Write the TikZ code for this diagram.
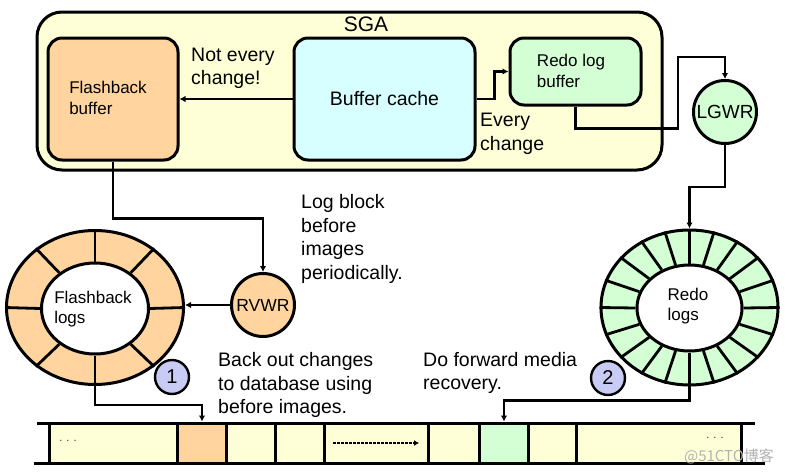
\documentclass[tikz,border=0pt]{standalone}
\usepackage{fontspec}
\setmainfont{Liberation Sans}
\newfontfamily\cjkfont{Noto Sans CJK SC}
\usetikzlibrary{shapes.geometric,arrows.meta}
\definecolor{sgaY}{HTML}{FFFFD7}
\definecolor{peach}{HTML}{FFD49E}
\definecolor{cyanL}{HTML}{D7FFFF}
\definecolor{greenL}{HTML}{D4FFD4}
\definecolor{lav}{HTML}{C8CCF5}
\begin{document}
\begin{tikzpicture}[x=1pt,y=-1pt,
  box/.style={draw, line width=3pt, rounded corners=14pt, inner sep=0pt},
  conn/.style={line width=2.6pt},
  arr/.style={conn, -{Latex[length=6pt,width=6.5pt]}},
  bigtxt/.style={font=\fontsize{19.5}{23.5}\selectfont, align=left, inner sep=0pt},
  smalltxt/.style={font=\fontsize{17}{20.5}\selectfont, align=left, inner sep=0pt},
  ring/.style={ellipse, draw, line width=3pt, inner sep=0pt},
  spoke/.style={line width=2.8pt},
  proc/.style={circle, draw, line width=3pt, inner sep=0pt, minimum size=63pt},
  num/.style={circle, draw, line width=2.4pt, fill=lav, minimum size=34pt, inner sep=0pt, font=\fontsize{20}{24}\selectfont},
  cell/.style={draw, line width=3pt, minimum height=40pt, inner sep=0pt, anchor=west, fill=sgaY}
]
\useasboundingbox (0,0) rectangle (785,474);

% SGA
\node[box, rounded corners=25pt, fill=sgaY, minimum width=625pt, minimum height=158pt] (sga) at (349.5,91) {};
\node[font=\fontsize{21}{24}\selectfont, inner sep=0pt] (sgal) at (366,24) {SGA};

\node[box, fill=peach, minimum width=130pt, minimum height=122pt] (fb) at (113,99) {};
\node[smalltxt] (fbt) at (108,98) {Flashback\\buffer};
\node[box, fill=cyanL, minimum width=181pt, minimum height=122pt, font=\fontsize{19.5}{23.5}\selectfont] (bc) at (384.5,99) {Buffer cache};
\node[box, fill=greenL, minimum width=131pt, minimum height=67pt] (rlb) at (575.5,71.5) {};
\node[smalltxt] (rlbt) at (571,71) {Redo log\\buffer};

\node[proc, fill=greenL, font=\fontsize{19}{22}\selectfont] (lgwr) at (725,112) {LGWR};
\node[proc, fill=peach, font=\fontsize{17.5}{21}\selectfont] (rvwr) at (263,305) {RVWR};

% Flashback logs ring
\node[ring, fill=peach, minimum width=177pt, minimum height=154pt] (fbl) at (95,307.5) {};
\node[ring, fill=white, minimum width=107pt, minimum height=91pt] (fbi) at (95,308.5) {};
\foreach \a in {0,45,...,315} \draw[spoke] (fbi.\a) -- (fbl.\a);
\node[smalltxt] (fblt) at (93,309) {Flashback\\logs};

% Redo logs ring
\node[ring, fill=greenL, minimum width=177pt, minimum height=155pt] (redo) at (689.5,307.5) {};
\node[ring, fill=white, minimum width=105pt, minimum height=86pt] (redoi) at (689.5,308) {};
\foreach \a in {0,18,...,342} \draw[spoke] (redoi.\a) -- (redo.\a);
\node[smalltxt] (redot) at (688,306) {Redo\\logs};

% numbered circles
\node[num] (n1) at (172,377) {1};
\node[num] (n2) at (608,378) {2};

% text labels
\node[bigtxt, anchor=west] (t1) at (191,68.5) {Not every\\change!};
\node[bigtxt, anchor=west] (t2) at (480,134) {Every\\change};
\node[bigtxt, anchor=west] (t3) at (301,239) {Log block\\before\\images\\periodically.};
\node[bigtxt, anchor=west] (t4) at (218,385) {Back out changes\\to database using\\before images.};
\node[bigtxt, anchor=west] (t5) at (423,373) {Do forward media\\recovery.};

% database strip
\node[cell, minimum width=128pt] (s1) at (48,443) {};
\node[cell, minimum width=49pt, fill=peach] (s2) at (176,443) {};
\node[cell, minimum width=49pt] (s3) at (225,443) {};
\node[cell, minimum width=49pt] (s4) at (274,443) {};
\node[cell, minimum width=104pt] (s5) at (323,443) {};
\node[cell, minimum width=51pt] (s6) at (427,443) {};
\node[cell, minimum width=49pt, fill=greenL] (s7) at (478,443) {};
\node[cell, minimum width=48pt] (s8) at (527,443) {};
\node[cell, minimum width=165pt] (s9) at (575,443) {};
\coordinate (tl) at (37,423);
\coordinate (tr) at (755,423);
\coordinate (bl) at (34,463);
\coordinate (br) at (765,463);
\draw[line width=3pt] (tl) -- (tr);
\draw[line width=3pt] (bl) -- (br);
\node[font=\fontsize{11}{12}\selectfont, text=black!80] (d1) at (68,441) {. . .};
\node[font=\fontsize{11}{12}\selectfont, text=black!80] (d2) at (715,438) {. . .};
\coordinate (da) at (333,443);
\coordinate (db) at (419,443);
\draw[line width=2.8pt, dash pattern=on 2.5pt off 1.5pt, -{Latex[length=5pt,width=6pt]}] (da) -- (db);

% connectors
\draw[arr] (bc.west) -- (fb.east);
\draw[arr] (bc.east) -- ++(18,0) |- (rlb.west);
\coordinate (k1) at (678,57);
\draw[arr] (rlb.south) -- ++(0,22) -| (k1) -| (lgwr.north);
\draw[arr] (lgwr.south) -- ++(0,42) -| (redo.north);
\draw[arr] (fb.south) -- ++(0,57) -| (rvwr.north);
\draw[arr] (rvwr.west) -- (rvwr.west -| fbl.east);
\draw[arr] (fbl.south) -- ++(0,19) -| (s2.north);
\draw[arr] (redo.south) -- ++(0,14) -| (s7.north);

% watermark
\node[font=\cjkfont\fontsize{15}{18}\selectfont, text=gray!60, inner sep=0pt] (wm) at (729,456) {@51CTO博客};
\end{tikzpicture}
\end{document}
